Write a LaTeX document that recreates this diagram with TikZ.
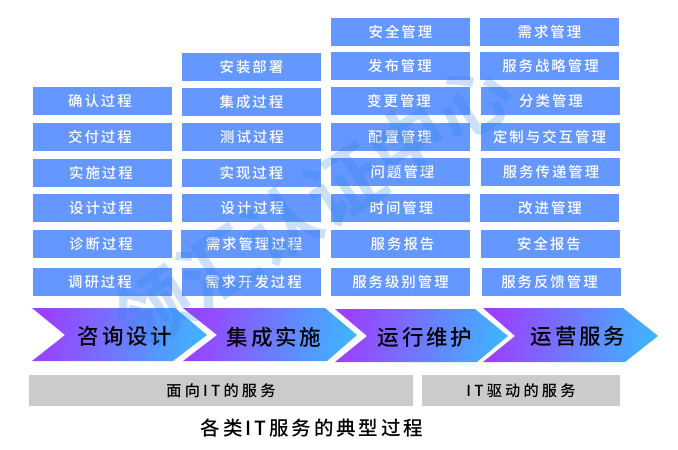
\documentclass[tikz,border=0pt]{standalone}
\usepackage{fontspec}
\setmainfont{Noto Sans CJK SC}
\newfontfamily\cjkbox[LetterSpace=14]{Noto Sans CJK SC Medium}
\newfontfamily\cjkwide[LetterSpace=21]{Noto Sans CJK SC Medium}
\newfontfamily\cjkchev[LetterSpace=13]{Noto Sans CJK SC Medium}
\newfontfamily\cjktitle[LetterSpace=15]{Noto Sans CJK SC Medium}
\newfontfamily\cjkmark{Noto Sans CJK SC Bold}
\definecolor{boxblue}{HTML}{6497FF}
\definecolor{graybar}{HTML}{CBCBCB}
\definecolor{chevpurple}{HTML}{9C40FF}
\definecolor{chevblue}{HTML}{40B2FF}
\definecolor{markblue}{HTML}{2F80E0}
\tikzset{
  procbox/.style={fill=boxblue,minimum width=139pt,minimum height=28pt,inner sep=0pt,text=white,font=\cjkbox\fontsize{14.4}{14.4}\selectfont},
  tx/.style={execute at begin node={\hspace*{#1pt}}},
  graybox/.style={fill=graybar,minimum height=31pt,inner sep=0pt,text=black,font=\cjkwide\fontsize{15.2}{15.2}\selectfont},
  chev/.style={left color=chevpurple,right color=chevblue,shading angle=80},
  chevlabel/.style={text=black,font=\cjkchev\fontsize{21.5}{21.5}\selectfont},
  titlelabel/.style={text=black,font=\cjktitle\fontsize{19.5}{19.5}\selectfont}
}
\begin{document}
\begin{tikzpicture}[x=1pt,y=-1pt]
\useasboundingbox (0,0) rectangle (678,450);
% column 1
\node[procbox,tx=-5] (a1) at (102.5,101) {确认过程};
\node[procbox,tx=-5] (a2) at (102.5,137) {交付过程};
\node[procbox,tx=-3] (a3) at (102.5,173) {实施过程};
\node[procbox,tx=-3] (a4) at (102.5,208) {设计过程};
\node[procbox,tx=-3] (a5) at (102.5,244) {诊断过程};
\node[procbox,tx=-4] (a6) at (102,282) {调研过程};
% column 2
\node[procbox] (b1) at (251.5,67) {安装部署};
\node[procbox] (b2) at (251.5,102) {集成过程};
\node[procbox,tx=1] (b3) at (251.5,137) {测试过程};
\node[procbox] (b4) at (251.5,173) {实现过程};
\node[procbox,tx=2] (b5) at (251.5,208) {设计过程};
\node[procbox,tx=7] (b6) at (250.5,244) {需求管理过程};
\node[procbox,tx=4] (b7) at (251.5,282) {需求开发过程};
% column 3
\node[procbox] (c1) at (400.5,32) {安全管理};
\node[procbox,tx=-1] (c2) at (400.5,66) {发布管理};
\node[procbox,tx=-3] (c3) at (400.5,101) {变更管理};
\node[procbox,tx=-1] (c4) at (400.5,137) {配置管理};
\node[procbox,tx=4] (c5) at (400.5,172) {问题管理};
\node[procbox,tx=2] (c6) at (400.5,208) {时间管理};
\node[procbox,tx=4] (c7) at (400.5,244) {服务报告};
\node[procbox] (c8) at (400.5,282) {服务级别管理};
% column 4
\node[procbox] (d1) at (549.5,32) {需求管理};
\node[procbox,tx=2] (d2) at (549.5,66) {服务战略管理};
\node[procbox,tx=1] (d3) at (550.5,101) {分类管理};
\node[procbox,tx=-2] (d4) at (550.5,137) {定制与交互管理};
\node[procbox,tx=1] (d5) at (550.5,172) {服务传递管理};
\node[procbox,tx=1] (d6) at (549.5,208) {改进管理};
\node[procbox,tx=-3] (d7) at (550.5,244) {安全报告};
\node[procbox,tx=-4] (d8) at (551.5,282) {服务反馈管理};
% chevrons
\shade[chev] (32,308) -- (175,308) -- (207,335) -- (173,361) -- (32,361) -- (65,335) -- cycle;
\shade[chev] (183,308) -- (325,308) -- (357,335) -- (327,361) -- (183,361) -- (217,335) -- cycle;
\shade[chev] (335,309) -- (475,309) -- (508,336) -- (477,362) -- (335,362) -- (367,336) -- cycle;
\shade[chev] (483,308) -- (623,308) -- (658,336) -- (625,362) -- (483,362) -- (515,336) -- cycle;
\node[chevlabel] (e1) at (125,336) {咨询设计};
\node[chevlabel] (e2) at (274,337) {集成实施};
\node[chevlabel] (e3) at (425,337) {运行维护};
\node[chevlabel] (e4) at (578,336) {运营服务};
% watermark
\node[rotate=33,text=markblue,opacity=.25,font=\cjkmark\fontsize{76}{76}\selectfont] (wm) at (313,205) {领汇认证中心};
% bars
\node[graybox,minimum width=384pt] (f1) at (221,390.5) {面向IT的服务};
\node[graybox,minimum width=198pt] (f2) at (521,390.5) {IT驱动的服务};
\node[titlelabel] (t) at (312,428) {各类IT服务的典型过程};
\end{tikzpicture}
\end{document}
